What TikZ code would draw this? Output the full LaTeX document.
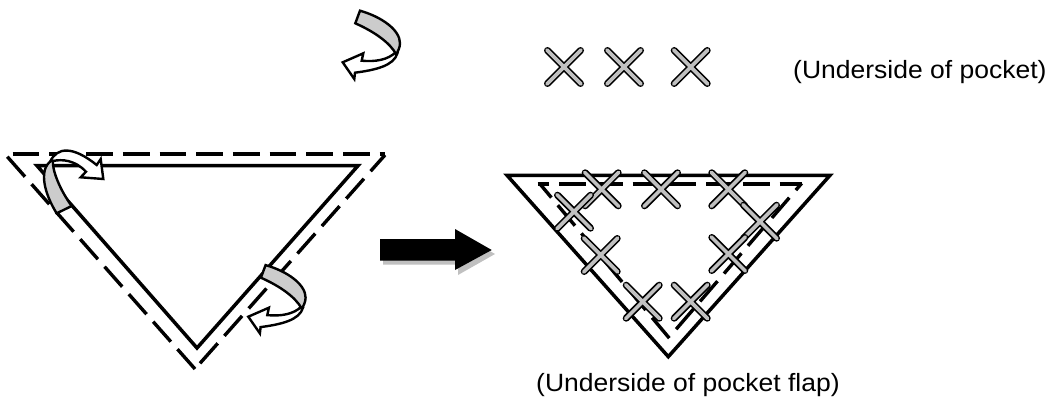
\documentclass[tikz,border=0pt]{standalone}
\usepackage{fontspec}
\setmainfont{Liberation Sans}
\definecolor{bandgray}{RGB}{204,204,204}
\definecolor{xgray}{RGB}{192,192,192}
\tikzset{
  solidline/.style={line width=3.5pt,line join=miter,miter limit=10},
  dashline/.style={line width=3.4pt,dash pattern=on 26.7pt off 10pt},
  outline/.style={draw=black,line width=2.4pt,line join=miter},
  label/.style={inner sep=0pt,font=\fontsize{25}{30}\selectfont,xscale=1.06,transform shape},
  curlarrow/.pic={
    \path[outline,fill=white] (342.7,62.3) -- (363.3,53.3) -- (361.7,60.7)
      .. controls (375,62) and (388,60) .. (396,52)
      -- (397.5,53) .. controls (394,66) and (375,70) .. (355,72.7)
      -- (354.3,79) -- cycle;
    \path[outline,fill=bandgray] (360,10.7) .. controls (382,17) and (400,30) .. (400,43.3)
      .. controls (400,47) and (398,52) .. (396,54)
      .. controls (390,43) and (375,32) .. (355.3,23.3) -- cycle;
  },
  xmark/.pic={
    \draw[black,line width=7pt,line cap=round] (-16.5,-16.5) -- (16.5,16.5) (-16.5,16.5) -- (16.5,-16.5);
    \draw[xgray,line width=3.6pt,line cap=round] (-17,-17) -- (17,17) (-17,17) -- (17,-17);
  }
}
\begin{document}
\begin{tikzpicture}[x=1pt,y=-1pt]
\useasboundingbox (0,0) rectangle (1051,401);
\fill[white] (0,0) rectangle (1051,401);
% left triangle
\draw[solidline] (37,165.7) -- (358,165.7) -- (197,348) -- cycle;
\draw[dashline] (12.7,154) -- (385,154);
\draw[dashline] (7.3,156.7) -- (195,369);
\draw[dashline] (200,363.3) -- (385,155);
% top curled arrow and lower one
\pic at (0,0) {curlarrow};
\pic at (-94.4,254.4) {curlarrow};
% upper-left curled arrow
\path[outline,fill=white] (50,162) .. controls (57,146.5) and (73,146) .. (96.7,165)
  -- (100.7,159) -- (103.3,179) -- (80.7,177.3) -- (86,171.7)
  .. controls (75,160) and (62,159) .. (53,161) -- cycle;
\path[outline,fill=bandgray] (51,161) .. controls (38,170) and (45,195) .. (56.7,213.3)
  -- (71.7,206) .. controls (60,190) and (52,170) .. (53,161) -- cycle;
% block arrow
\fill[xgray] (383,243) -- (458,243) -- (458,233) -- (495,254) -- (458,275) -- (458,264.7) -- (383,264.7) -- cycle;
\fill[black] (380,239) -- (455,239) -- (455,229) -- (491.7,250) -- (455,270) -- (455,260.7) -- (380,260.7) -- cycle;
% right triangle
\draw[solidline] (507,175.3) -- (830,175.3) -- (668.3,356.7) -- cycle;
\draw[line width=3.4pt,dash pattern=on 26.7pt off 10pt,dash phase=15.1pt] (537.7,184) -- (801.7,184);
\draw[line width=3.4pt,dash pattern=on 26.7pt off 10pt,dash phase=9pt] (540,184) -- (670,339);
\draw[line width=3.4pt,dash pattern=on 26.7pt off 10pt,dash phase=17.7pt] (801.7,183.3) -- (672,334);
% crosses
\foreach \cx/\cy in {564/67,624/67,690.7/67,601.7/189.3,574/211.7,600.7/255,661/189.3,728.3/189.3,760/221.7,728.3/254,642.7/301.7,690.7/301.7}
  \pic at (\cx,\cy) {xmark};
% labels
\node[label,anchor=base west] (lblpocket) at (793,78.3) {(Underside of pocket)};
\node[label,anchor=base west] (lblflap) at (536,391) {(Underside of pocket flap)};
\end{tikzpicture}
\end{document}
